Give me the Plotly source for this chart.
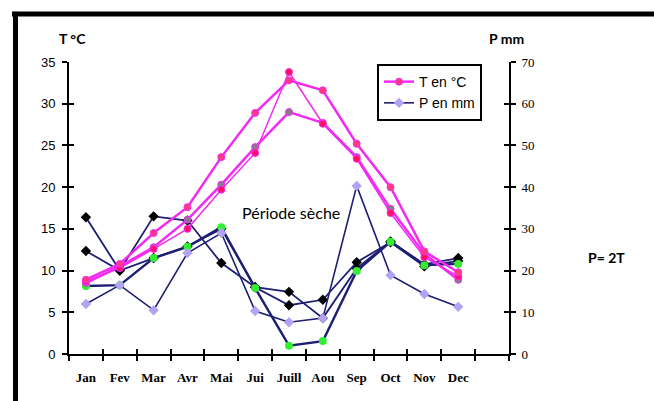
import plotly.graph_objects as go

months = ["Jan", "Fev", "Mar", "Avr", "Mai", "Jui", "Juill", "Aou", "Sep", "Oct", "Nov", "Dec"]
slots = months + [" "]

# Temperatures (°C)
t_a = [8.9, 10.8, 14.5, 17.6, 23.6, 28.9, 32.8, 31.6, 25.2, 20.0, 12.3, 9.8]
t_b = [8.5, 10.5, 12.8, 16.1, 20.3, 24.8, 29.0, 27.7, 23.6, 17.4, 12.0, 8.9]
t_c = [8.7, 10.3, 12.6, 15.0, 19.7, 24.1, 33.8, 27.6, 23.4, 16.9, 11.6, 9.3]

# Precipitation (mm)
p_black1 = [32.8, 20.0, 33.0, 32.0, 21.8, 16.0, 14.9, 8.6, 20.5, 27.0, 21.5, 23.0]
p_black2 = [24.7, 20.0, 23.0, 25.8, 30.0, 16.0, 11.7, 13.0, 22.0, 26.8, 21.0, 22.3]
p_green = [16.3, 16.5, 23.0, 25.7, 30.4, 15.8, 2.0, 3.1, 19.9, 26.9, 21.3, 21.6]
p_lav = [12.0, 16.5, 10.5, 24.2, 29.0, 10.3, 7.6, 8.6, 40.3, 18.9, 14.4, 11.3]

NAVY = "#1e1e74"
MAG = "#f22af2"

fig = go.Figure()

# P series on main axes (x, y -> right side)
for vals, mcol, sym, name, show, w in [
    (p_black1, "#000000", "diamond", "P1", False, 1.8),
    (p_black2, "#000000", "diamond", "P2", False, 1.8),
    (p_green, "#33ee33", "circle", "P3", False, 2.4),
    (p_lav, "#b4a2f2", "diamond", "P en mm", True, 1.6),
]:
    fig.add_trace(go.Scatter(
        x=months, y=vals, mode="lines+markers", name=name, showlegend=show,
        line=dict(color=NAVY, width=w),
        marker=dict(color=mcol, symbol=sym, size=8, line=dict(width=0)),
        xaxis="x", yaxis="y", legendrank=2,
    ))

# T series on overlay axis (left)
for vals, mcol, w, name, show in [
    (t_b, "#808080", 2.5, "T2", False),
    (t_c, "#ff1060", 1.5, "T3", False),
    (t_a, "#ff3a80", 2.5, "T en °C", True),
]:
    fig.add_trace(go.Scatter(
        x=months, y=vals, mode="lines+markers", name=name, showlegend=show,
        line=dict(color=MAG, width=w),
        marker=dict(color=mcol, size=7, line=dict(color=MAG, width=1)),
        xaxis="x", yaxis="y2", legendrank=1,
    ))

# invisible helper traces so the tick-crossing axes render
fig.add_trace(go.Scatter(x=[None], y=[None], xaxis="x2", yaxis="y", showlegend=False, hoverinfo="skip"))
fig.add_trace(go.Scatter(x=[None], y=[None], xaxis="x", yaxis="y3", showlegend=False, hoverinfo="skip"))
fig.add_trace(go.Scatter(x=[None], y=[None], xaxis="x", yaxis="y4", showlegend=False, hoverinfo="skip"))

serif = dict(family="Liberation Serif", size=13, color="black")
sans = dict(family="Liberation Sans", size=13, color="black")

def xax(**kw):
    d = dict(type="category", categoryorder="array", categoryarray=slots,
             range=[-0.5, 12.5], showgrid=False, zeroline=False, automargin=False,
             tickangle=0, tickson="boundaries", tickcolor="black", tickwidth=2, ticklen=5)
    d.update(kw)
    return d

def yax(**kw):
    d = dict(showgrid=False, zeroline=False, automargin=False, anchor="x",
             ticklen=5, tickwidth=2, tickcolor="black")
    d.update(kw)
    return d

fig.update_layout(
    width=654, height=401,
    margin=dict(l=69, r=145, t=62, b=47, autoexpand=False),
    paper_bgcolor="white", plot_bgcolor="white",
    hovermode=False,
    xaxis=xax(ticks="outside", showline=True, linecolor="black", linewidth=2,
              tickfont=dict(family="Liberation Serif", size=13, color="black", weight="bold"),
              ticklabelstandoff=10),
    xaxis2=xax(overlaying="x", anchor="y", side="bottom", ticks="inside", showticklabels=False),
    yaxis=yax(range=[0, 70], dtick=10, side="right", ticks="outside",
              showline=True, linecolor="black", linewidth=2, tickfont=serif,
              ticklabelstandoff=3),
    yaxis2=yax(range=[0, 35], dtick=5, side="left", overlaying="y", ticks="outside",
               showline=True, linecolor="black", linewidth=2, tickfont=sans,
               ticklabelstandoff=4),
    yaxis3=yax(range=[0, 35], dtick=5, side="left", overlaying="y", ticks="inside",
               showticklabels=False),
    yaxis4=yax(range=[0, 70], dtick=10, side="right", overlaying="y", ticks="inside",
               showticklabels=False),
    legend=dict(x=0.70, y=0.993, xanchor="left", yanchor="top", bgcolor="white",
                bordercolor="black", borderwidth=2,
                font=dict(family="Liberation Sans", size=14, color="black"),
                tracegroupgap=0, itemwidth=30),
    showlegend=True,
)

def note(text, x, y, size):
    fig.add_annotation(text=text, xref="paper", yref="paper", x=x, y=y,
                       xanchor="center", yanchor="middle", showarrow=False,
                       font=dict(family="Lato", size=size, color="black"))

note("<b>T °C</b>", 0.009, 1.082, 14)
note("<b>P mm</b>", 0.995, 1.082, 14)
note("Période sèche", 0.5045, 0.483, 16)
note("<b>P= 2T</b>", 1.2205, 0.332, 14)

# thick frame lines (top and left)
fig.add_shape(type="line", xref="paper", yref="paper", x0=-0.1295, x1=1.33, y0=1.164, y1=1.164,
              line=dict(color="black", width=5))
fig.add_shape(type="line", xref="paper", yref="paper", x0=-0.1216, x1=-0.1216, y0=1.172, y1=-0.17,
              line=dict(color="black", width=5))

fig.write_html("out.html", config={"displayModeBar": False},
               post_script="document.body.style.margin='0';")
